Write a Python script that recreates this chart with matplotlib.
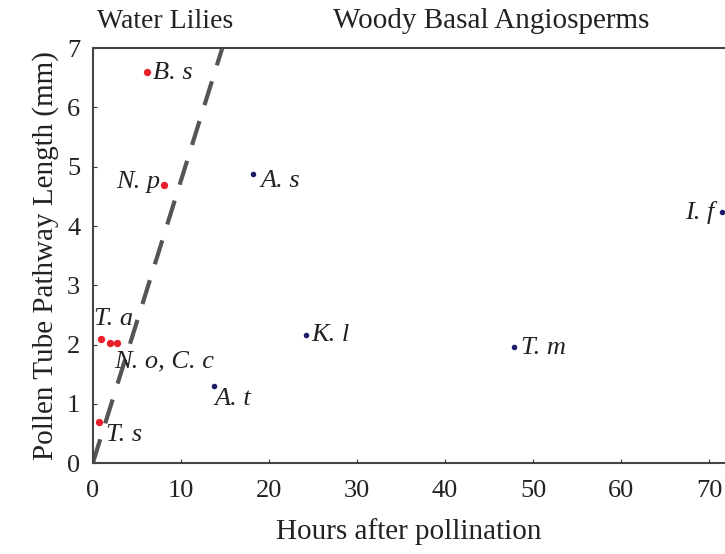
import matplotlib.pyplot as plt

# Hours after pollination and pollen tube pathway length (mm) per species
lily_names = ['B. s', 'N. p', 'T. a', 'N. o', 'C. c', 'T. s']
lily_hours = [6.1, 8.1, 0.9, 1.9, 2.7, 0.7]
lily_length = [6.6, 4.7, 2.1, 2.02, 2.02, 0.69]

woody_names = ['A. s', 'I. f', 'K. l', 'A. t', 'T. m']
woody_hours = [18.2, 71.5, 24.2, 13.8, 47.8]
woody_length = [4.87, 4.23, 2.16, 1.3, 1.96]

# growth-rate reference line
line_hours = [0, 14.7]
line_length = [0, 7]

plt.rcParams['font.family'] = ['Liberation Serif', 'DejaVu Serif']

fig = plt.figure(figsize=(7.25, 5.54), dpi=100)
ax = fig.add_axes([0.128, 0.164, 0.872, 0.749])

ax.plot(line_hours, line_length, color='#555555', lw=3, dashes=(6, 4), zorder=1)
ax.scatter(lily_hours, lily_length, s=28, color='#e8202a', zorder=3, linewidths=0)
ax.scatter(woody_hours, woody_length, s=16, color='#1c1c6a', zorder=3, linewidths=0)

# label offsets in points
offsets = {
    'B. s': (5, -1, 'left'), 'N. p': (-3, 2, 'right'), 'T. a': (-5, 14, 'left'),
    'N. o, C. c': (3, -13, 'left'), 'T. s': (5, -9, 'left'),
    'A. s': (5, -5, 'left'), 'I. f': (-6, 0, 'right'), 'K. l': (4, 0, 'left'),
    'A. t': (0, -9, 'left'), 'T. m': (5, -1, 'left'),
}
labels = [('B. s', lily_hours[0], lily_length[0]), ('N. p', lily_hours[1], lily_length[1]),
          ('T. a', lily_hours[2], lily_length[2]), ('N. o, C. c', lily_hours[3], lily_length[3]),
          ('T. s', lily_hours[5], lily_length[5])]
labels += list(zip(woody_names, woody_hours, woody_length))
for name, x, y in labels:
    dx, dy, ha = offsets[name]
    ax.annotate(name, (x, y), xytext=(dx, dy), textcoords='offset points',
                ha=ha, va='center', fontsize=19, style='italic', color='#222222')

ax.set_xlim(0, 71.8)
ax.set_ylim(0, 7)
ax.set_xticks(range(0, 71, 10))
ax.set_yticks(range(0, 8))
ax.tick_params(direction='in', length=3, labelsize=19,
               colors='#333333', labelcolor='#222222')
ax.tick_params(axis='x', pad=12)
ax.tick_params(axis='y', pad=9)
for side in ['left', 'bottom', 'top']:
    ax.spines[side].set_color('#444444')
    ax.spines[side].set_linewidth(1.5)
ax.spines['right'].set_visible(False)

ax.set_xlabel('Hours after pollination', fontsize=21, color='#222222', labelpad=12)
ax.set_ylabel('Pollen Tube Pathway Length (mm)', fontsize=21, color='#222222', labelpad=6)

fig.text(0.228, 0.962, 'Water Lilies', ha='center', va='center', fontsize=20, color='#222222')
fig.text(0.677, 0.962, 'Woody Basal Angiosperms', ha='center', va='center', fontsize=21, color='#222222')

fig.savefig('out.png', dpi=100)
